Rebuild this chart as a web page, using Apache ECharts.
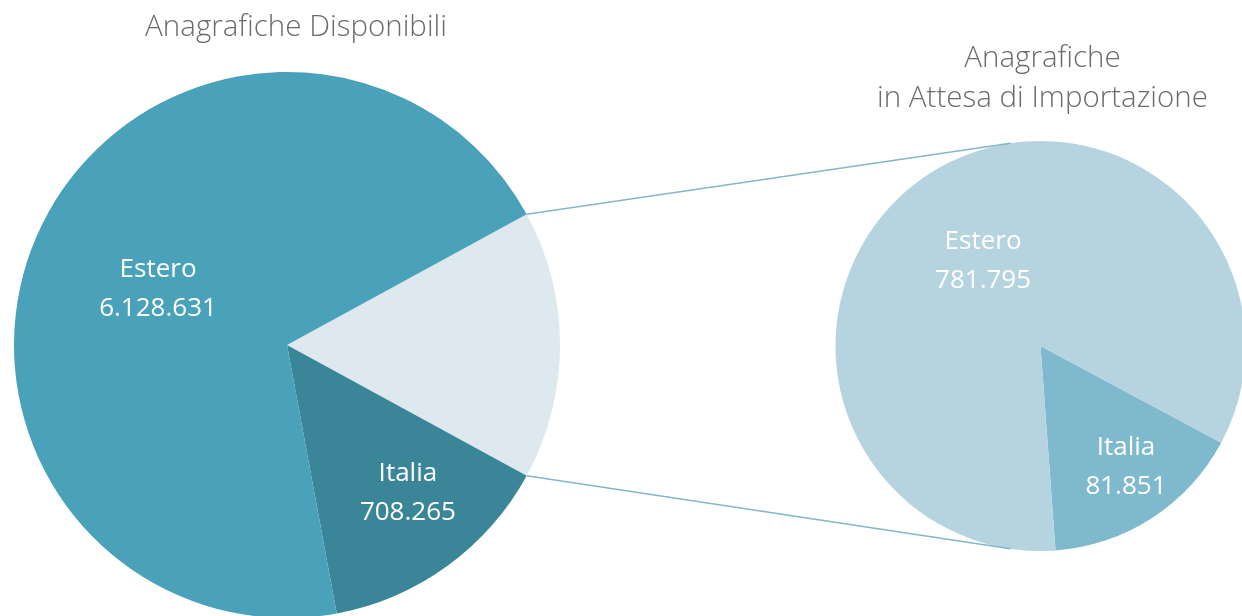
<!DOCTYPE html>
<html>
<head>
<meta charset="utf-8">
<script src="https://cdn.jsdelivr.net/npm/echarts@6/dist/echarts.min.js"></script>
<style>
html,body{margin:0;padding:0;background:#fff;}
#chart{width:1242px;height:616px;}
</style>
</head>
<body>
<div id="chart"></div>
<script>
// ---- data ----
const titleLeft = 'Anagrafiche Disponibili';
const titleRight = 'Anagrafiche\nin Attesa di Importazione';

const leftCategories = ['In attesa', 'Italia', 'Estero'];
const leftCounts = [863646, 708265, 6128631];
const leftShares = [57.2, 50.9, 251.9];      // slice angles as drawn (degrees)

const rightCategories = ['Italia', 'Estero'];
const rightCounts = [81851, 781795];
const rightShares = [57.6, 302.4];           // slice angles as drawn (degrees)

// ---- styles ----
const leftColors = ['#dde9ef', '#3a8598', '#49a2b9'];
const rightColors = ['#7eb9ce', '#b5d4df'];
const leftGeom = { center: [287, 345], r: 273, start: 28.6 };
const rightGeom = { center: [1040.5, 346], r: 205, start: -28.2 };
const connectorAngle = 98.4;
const labelShift = [
  [null, [39, 35], [-3, 4]],
  [[28, 33], [0, 4]]
];

function fmt(n) {
  return String(n).replace(/\B(?=(\d{3})+(?!\d))/g, '.');
}

const chart = echarts.init(document.getElementById('chart'), null, { renderer: 'canvas' });

const labelStyle = {
  show: true,
  position: 'inside',
  color: '#ffffff',
  fontFamily: 'Open Sans',
  fontSize: 26,
  lineHeight: 39,
  fontWeight: 'normal',
  formatter: p => p.name + '\n' + fmt(p.data.count)
};

function makeLayout(si) {
  return function (params) {
    const s = labelShift[si][params.dataIndex];
    return s ? { dx: s[0], dy: s[1] } : {};
  };
}

const leftData = leftCategories.map((c, i) => ({
  name: c, value: leftShares[i], count: leftCounts[i],
  itemStyle: { color: leftColors[i] },
  label: { show: i !== 0 }
}));
const rightData = rightCategories.map((c, i) => ({
  name: c, value: rightShares[i], count: rightCounts[i],
  itemStyle: { color: rightColors[i] }
}));

// connector endpoints computed from the pies' geometry
const total = leftShares.reduce((a, b) => a + b, 0);
const a1 = leftGeom.start * Math.PI / 180;
const a2 = (leftGeom.start - leftShares[0] / total * 360) * Math.PI / 180;
function pt(g, ang) {
  return [g.center[0] + g.r * Math.cos(ang), g.center[1] - g.r * Math.sin(ang)];
}
const p1 = pt(leftGeom, a1), p2 = pt(leftGeom, a2);
const q1 = pt(rightGeom, connectorAngle * Math.PI / 180);
const q2 = pt(rightGeom, -connectorAngle * Math.PI / 180);
const lineStyle = { stroke: '#84b7c7', lineWidth: 1.6 };

const titleText = { fontFamily: 'Open Sans', fontWeight: 300, fontSize: 29.5, lineHeight: 39.5, color: '#6b6b6b' };

chart.setOption({
  animation: false,
  title: [
    { text: titleLeft, left: 296, top: 8, textAlign: 'center', padding: 0, textStyle: titleText },
    { text: titleRight, left: 1042.5, top: 39, textAlign: 'center', padding: 0, textStyle: titleText }
  ],
  series: [
    {
      type: 'pie', silent: true, clockwise: true,
      center: leftGeom.center, radius: leftGeom.r, startAngle: leftGeom.start,
      avoidLabelOverlap: false, minShowLabelAngle: 0,
      label: labelStyle, labelLine: { show: false },
      labelLayout: makeLayout(0),
      itemStyle: { borderWidth: 0 },
      emphasis: { disabled: true },
      data: leftData
    },
    {
      type: 'pie', silent: true, clockwise: true,
      center: rightGeom.center, radius: rightGeom.r, startAngle: rightGeom.start,
      avoidLabelOverlap: false, minShowLabelAngle: 0,
      label: labelStyle, labelLine: { show: false },
      labelLayout: makeLayout(1),
      itemStyle: { borderWidth: 0 },
      emphasis: { disabled: true },
      data: rightData
    }
  ],
  graphic: [
    { type: 'line', shape: { x1: p1[0], y1: p1[1], x2: q1[0], y2: q1[1] }, style: lineStyle, silent: true, z: 10 },
    { type: 'line', shape: { x1: p2[0], y1: p2[1], x2: q2[0], y2: q2[1] }, style: lineStyle, silent: true, z: 10 }
  ]
});
</script>
</body>
</html>
